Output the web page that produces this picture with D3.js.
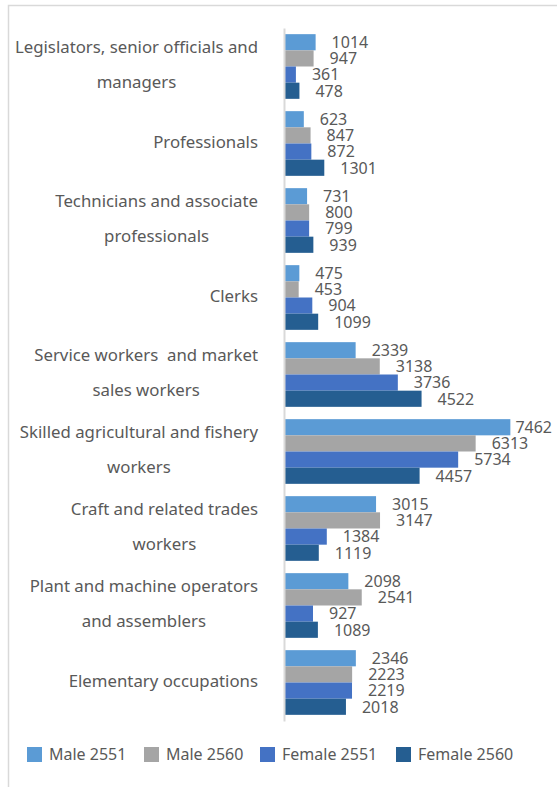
<!DOCTYPE html>
<html>
<head>
<meta charset="utf-8">
<script src="https://cdn.jsdelivr.net/npm/d3@7"></script>
<style>
  html, body { margin: 0; padding: 0; background: #fff; }
  svg { display: block; }
  text { font-family: "Noto Sans", "Open Sans", sans-serif; fill: #595959; }
</style>
</head>
<body>
<script>
const categories = [
  ["Legislators, senior officials and", "managers"],
  ["Professionals"],
  ["Technicians and associate", "professionals"],
  ["Clerks"],
  ["Service workers  and market", "sales workers"],
  ["Skilled agricultural and fishery", "workers"],
  ["Craft and related trades", "workers"],
  ["Plant and machine operators", "and assemblers"],
  ["Elementary occupations"]
];
const seriesNames = ["Male 2551", "Male 2560", "Female 2551", "Female 2560"];
const seriesColors = ["#5B9BD5", "#A5A5A5", "#4472C4", "#255E91"];
const male2551 = [1014, 623, 731, 475, 2339, 7462, 3015, 2098, 2346];
const male2560 = [947, 847, 800, 453, 3138, 6313, 3147, 2541, 2223];
const female2551 = [361, 872, 799, 904, 3736, 5734, 1384, 927, 2219];
const female2560 = [478, 1301, 939, 1099, 4522, 4457, 1119, 1089, 2018];
const seriesValues = [male2551, male2560, female2551, female2560];

const W = 557, H = 787;
const svg = d3.select("body").append("svg").attr("width", W).attr("height", H);

// frame
svg.append("path").attr("d", `M8.5,${H} V5.5 H${W}`)
  .attr("fill", "none").attr("stroke", "#d9d9d9").attr("stroke-width", 1.5);

const catIdx = d3.range(categories.length);
const y = d3.scaleBand().domain(catIdx).range([28, 721]).paddingInner(0.16).paddingOuter(0.08);
const ySub = d3.scaleBand().domain(d3.range(seriesNames.length)).range([0, y.bandwidth()]);
const x = d3.scaleLinear().domain([0, 8000]).range([285, 526.6]);

// bars
const groups = svg.append("g").selectAll("g").data(catIdx).join("g")
  .attr("transform", i => `translate(0,${y(i)})`);

groups.each(function(ci) {
  const g = d3.select(this);
  const data = seriesValues.map((arr, si) => ({ si, v: arr[ci] }));
  g.selectAll("rect").data(data).join("rect")
    .attr("x", x(0))
    .attr("y", d => ySub(d.si))
    .attr("width", d => x(d.v) - x(0))
    .attr("height", ySub.bandwidth())
    .attr("fill", d => seriesColors[d.si]);
  g.selectAll("text.val").data(data).join("text")
    .attr("class", "val")
    .attr("x", d => x(d.v) + 16)
    .attr("y", d => ySub(d.si) + ySub.bandwidth() / 2)
    .attr("dy", "0.36em")
    .style("font-size", "16px")
    .text(d => d.v)
    .each(function() {
      const w = this.getComputedTextLength();
      const xx = +d3.select(this).attr("x");
      if (xx + w > 552) d3.select(this).attr("x", 552 - w);
    });
});

// axis line
const axis = d3.axisLeft(y).tickSize(0).tickFormat("");
const axG = svg.append("g").attr("transform", `translate(284,0)`).call(axis);
axG.select(".domain").attr("stroke", "#d9d9d9").attr("stroke-width", 2);

// category labels
const labelRight = 258;
const labG = svg.append("g");
catIdx.forEach(ci => {
  const lines = categories[ci];
  const cy = y(ci) + y.bandwidth() / 2;
  const t = labG.append("text").style("font-size", "16.8px").attr("text-anchor", "middle")
    .attr("xml:space", "preserve").style("white-space", "pre");
  const n = lines.length;
  lines.forEach((ln, li) => {
    t.append("tspan").attr("y", cy + 4 + (li - (n - 1) / 2) * 35).text(ln);
  });
  let maxW = 0;
  t.selectAll("tspan").each(function() { maxW = Math.max(maxW, this.getComputedTextLength()); });
  t.selectAll("tspan").attr("x", labelRight - maxW / 2);
});

// legend
const legX = [27, 144, 260, 396];
const leg = svg.append("g").selectAll("g").data(seriesNames).join("g")
  .attr("transform", (d, i) => `translate(${legX[i]},747)`);
leg.append("rect").attr("width", 15).attr("height", 15).attr("fill", (d, i) => seriesColors[i]);
leg.append("text").attr("x", 22).attr("y", 7.5).attr("dy", "0.36em")
  .style("font-size", "16px").text(d => d);
</script>
</body>
</html>
